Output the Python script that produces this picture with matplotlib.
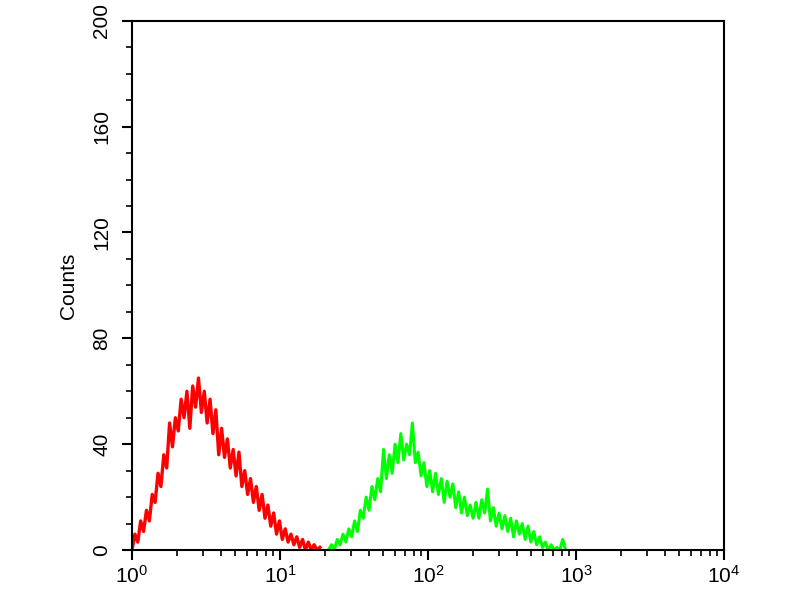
import numpy as np
import matplotlib
matplotlib.use("Agg")
import matplotlib.pyplot as plt
from matplotlib.ticker import MultipleLocator, LogLocator

plt.rcParams['font.family'] = ['Liberation Sans', 'DejaVu Sans']

# 1024 channels over 4 decades, every 5th channel shown
red_start = 0
red_counts = [0, 6, 3, 11, 7, 15, 11, 21, 18, 29, 24, 36, 31, 48, 39, 50, 45, 57, 50, 60,
              46, 62, 54, 65, 52, 60, 48, 57, 44, 53, 36, 46, 35, 42, 31, 38, 28, 37, 24, 30,
              21, 27, 18, 24, 15, 21, 12, 17, 9, 14, 6, 11, 4, 8, 3, 6, 2, 5, 1, 4,
              0, 3, 0, 2, 0, 1]

green_start = 340
green_counts = [0, 2, 0, 4, 2, 6, 3, 8, 5, 11, 7, 15, 12, 20, 15, 24, 19, 27, 22, 38,
                27, 36, 29, 40, 33, 44, 34, 40, 36, 48, 33, 37, 28, 33, 24, 30, 22, 29, 21, 27,
                18, 26, 20, 25, 16, 22, 14, 20, 13, 17, 12, 18, 12, 19, 14, 23, 11, 16, 9, 14,
                8, 13, 7, 12, 5, 11, 6, 10, 4, 9, 3, 7, 2, 5, 1, 3, 0, 2, 0, 1,
                0, 4, 0]

step = 5
n_channels = 1024


def chan_to_val(start, n):
    ch = start + step * np.arange(n)
    return 10 ** (ch * 4.0 / n_channels)


fig = plt.figure(figsize=(8, 6), dpi=100)
ax = fig.add_axes([0.165, 0.0833, 0.74, 0.882])

ax.plot(chan_to_val(red_start, len(red_counts)), red_counts, color='#ff0000', lw=2.4)
ax.plot(chan_to_val(green_start, len(green_counts)), green_counts, color='#00ff00', lw=2.2)

ax.set_xscale('log')
ax.set_xlim(1, 1e4)
ax.set_ylim(0, 200)

ax.yaxis.set_major_locator(MultipleLocator(40))
ax.yaxis.set_minor_locator(MultipleLocator(10))
ax.xaxis.set_major_locator(LogLocator(base=10))
ax.xaxis.set_minor_locator(LogLocator(base=10, subs=np.arange(2, 10)))

for s in ax.spines.values():
    s.set_linewidth(1.5)

ax.tick_params(axis='both', which='major', direction='out', length=7, width=1.5, labelsize=15)
ax.tick_params(axis='y', which='major', pad=8)
ax.tick_params(axis='both', which='minor', direction='out', length=4, width=1.2)
for lab in ax.get_yticklabels():
    lab.set_rotation(90)
    lab.set_va('center')

ax.set_ylabel('Counts', fontsize=15, labelpad=10)

fig.savefig('out.png', dpi=100)
